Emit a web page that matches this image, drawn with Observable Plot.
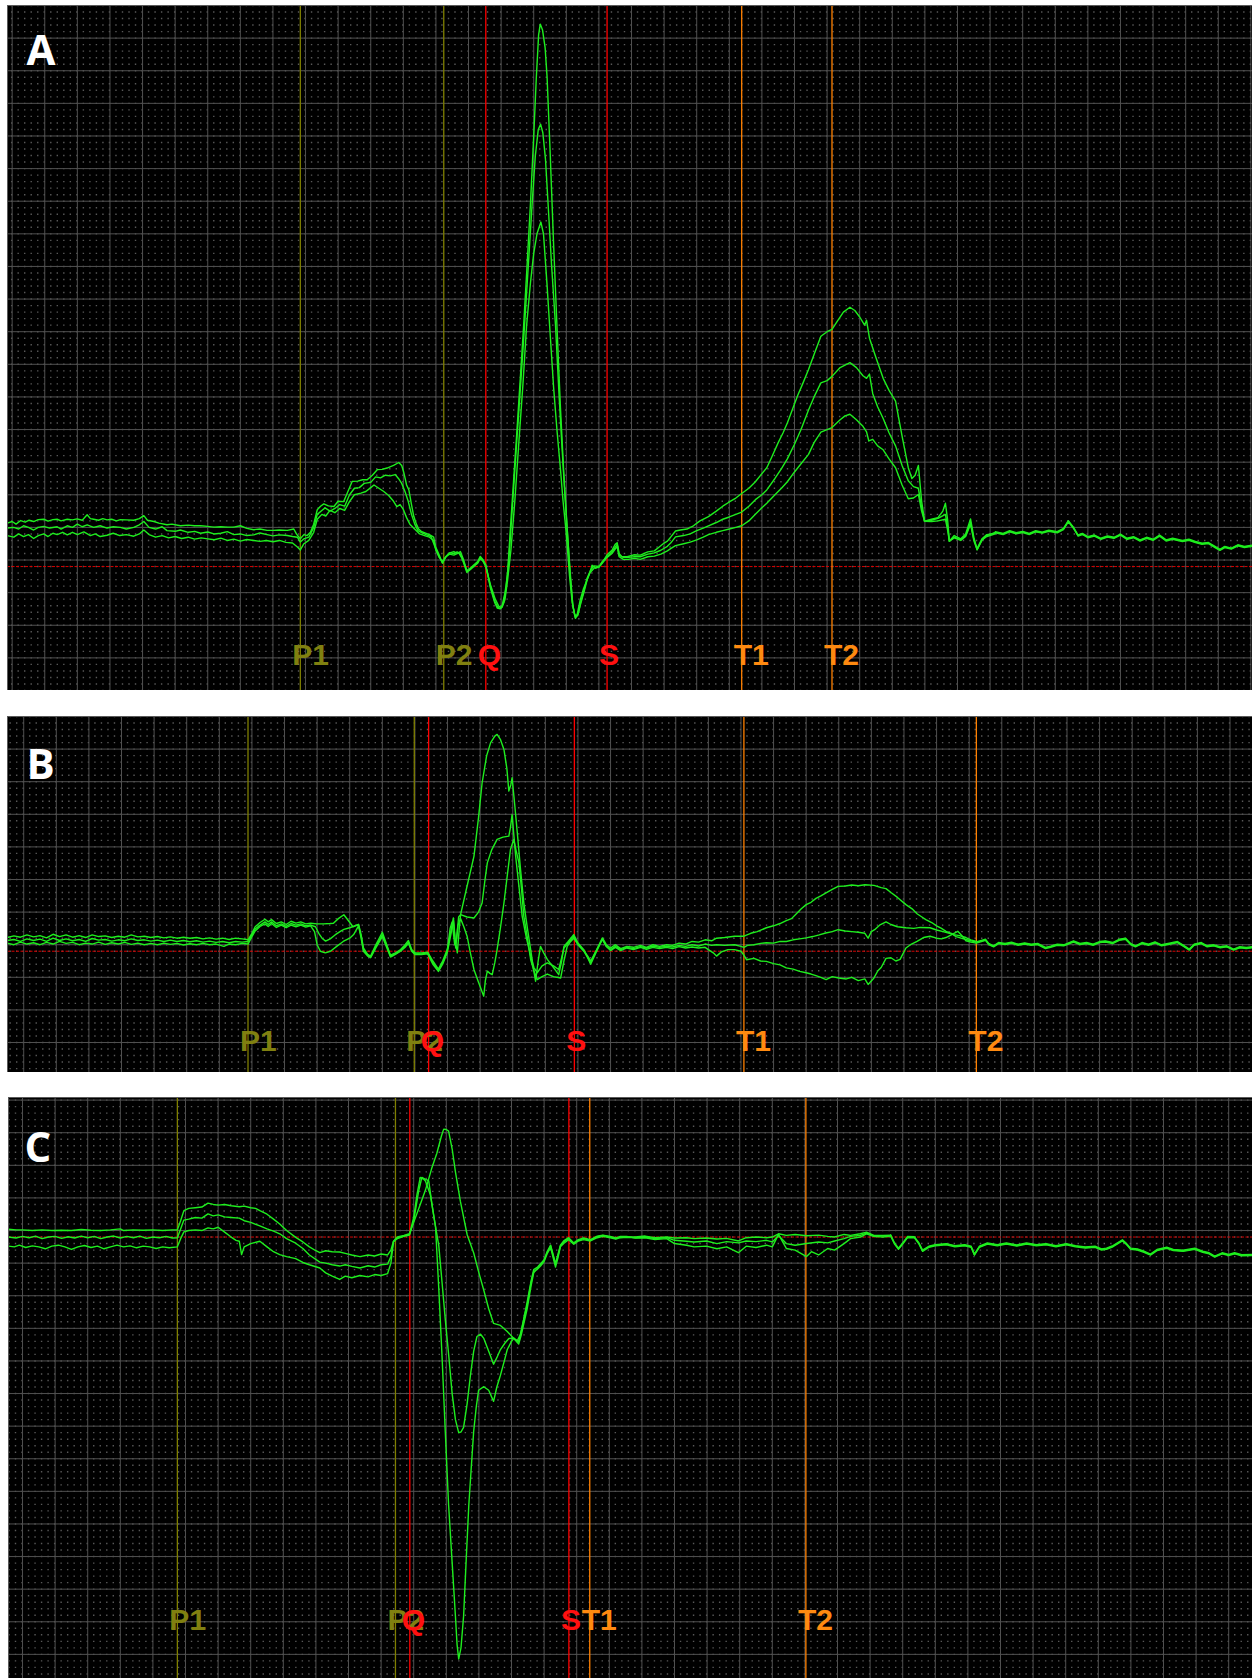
<!DOCTYPE html>
<html><head><meta charset="utf-8">
<script src="https://cdn.jsdelivr.net/npm/d3@7"></script>
<script src="https://cdn.jsdelivr.net/npm/@observablehq/plot@0.6"></script>
<style>
html,body{margin:0;padding:0;background:#fff;}
#root{position:relative;width:1252px;height:1678px;overflow:hidden;background:#fff;}
#root svg{position:absolute;display:block;}
</style></head><body><div id="root"></div>
<script>
// ---------- marker data (time in grid divisions) ----------
const markerNames = ["P1","P2","Q","S","T1","T2"];
const markerKinds = ["P","P","QS","QS","T","T"];
const aMarkerT = [8.84, 13.24, 14.53, 18.25, 22.38, 25.15];
const bMarkerT = [6.88, 11.98, 12.42, 16.89, 22.09, 29.22];
const cMarkerT = [4.75, 11.44, 11.88, 16.76, 17.40, 24.03];

// ---------- panel A traces [t, amplitude in divisions] ----------
const A1 = [[-0.15,1.33],[0.0,1.38],[0.12,1.3],[0.26,1.41],[0.4,1.36],[0.52,1.42],[0.66,1.38],[0.8,1.44],[0.97,1.45],[1.1,1.39],[1.25,1.44],[1.38,1.45],[1.5,1.4],[1.69,1.45],[1.85,1.43],[1.99,1.46],[2.15,1.42],[2.3,1.59],[2.4,1.47],[2.5,1.45],[2.65,1.42],[2.78,1.47],[2.91,1.43],[3.05,1.45],[3.2,1.4],[3.32,1.44],[3.5,1.43],[3.73,1.42],[3.9,1.47],[4.04,1.56],[4.15,1.42],[4.35,1.38],[4.5,1.33],[4.75,1.28],[4.9,1.3],[5.16,1.25],[5.4,1.27],[5.6,1.25],[5.78,1.25],[6.0,1.23],[6.19,1.21],[6.4,1.22],[6.6,1.21],[6.8,1.21],[7.0,1.25],[7.2,1.17],[7.41,1.13],[7.6,1.15],[7.82,1.11],[8.0,1.11],[8.2,1.12],[8.44,1.11],[8.64,1.15],[8.72,1.0],[8.84,0.85],[8.95,0.98],[9.05,0.95],[9.15,1.05],[9.25,1.3],[9.36,1.74],[9.46,1.85],[9.56,1.92],[9.7,1.86],[9.87,1.84],[10.0,2.0],[10.17,1.99],[10.3,2.3],[10.43,2.61],[10.6,2.62],[10.75,2.66],[10.89,2.66],[11.05,2.8],[11.2,2.97],[11.35,2.98],[11.5,3.02],[11.7,3.1],[11.86,3.19],[11.95,3.1],[12.01,2.9],[12.1,2.5],[12.17,2.35],[12.25,1.9],[12.32,1.54],[12.4,1.3],[12.47,1.15],[12.55,1.08],[12.7,1.02],[12.8,0.98],[12.93,0.9],[12.99,0.61],[13.1,0.35],[13.2,0.1],[13.3,0.3],[13.4,0.41],[13.55,0.46],[13.65,0.4],[13.75,0.46],[13.85,0.2],[13.95,-0.15],[14.05,-0.05],[14.16,0.05],[14.28,0.15],[14.36,0.31],[14.45,0.2],[14.53,0.05],[14.67,-0.65],[14.8,-1.1],[14.88,-1.27],[14.97,-1.3],[15.03,-1.2],[15.12,-0.8],[15.2,-0.2],[15.28,1.1],[15.38,2.6],[15.49,4.24],[15.59,5.8],[15.69,7.37],[15.8,9.3],[15.9,11.13],[16.0,13.2],[16.08,15.0],[16.15,16.3],[16.2,16.63],[16.27,16.45],[16.35,15.9],[16.41,15.0],[16.5,12.8],[16.61,9.87],[16.72,7.2],[16.82,4.87],[16.92,2.9],[17.03,1.1],[17.12,-0.2],[17.2,-1.2],[17.28,-1.59],[17.36,-1.45],[17.44,-1.14],[17.55,-0.75],[17.64,-0.4],[17.72,-0.2],[17.79,0.04],[17.9,-0.05],[18.05,0.04],[18.15,0.2],[18.25,0.36],[18.4,0.5],[18.5,0.68],[18.56,0.73],[18.62,0.4],[18.7,0.3],[18.87,0.3],[19.07,0.36],[19.27,0.35],[19.5,0.45],[19.7,0.48],[19.85,0.6],[20.0,0.72],[20.1,0.78],[20.2,0.9],[20.35,1.09],[20.5,1.12],[20.7,1.15],[20.9,1.25],[21.1,1.4],[21.36,1.53],[21.6,1.7],[21.8,1.85],[22.0,1.98],[22.2,2.1],[22.38,2.24],[22.6,2.4],[22.8,2.6],[23.0,2.85],[23.15,3.03],[23.3,3.35],[23.5,3.8],[23.65,4.1],[23.78,4.4],[23.95,4.85],[24.1,5.25],[24.25,5.6],[24.43,6.04],[24.6,6.5],[24.81,7.06],[25.0,7.2],[25.15,7.27],[25.3,7.5],[25.5,7.8],[25.7,7.95],[25.85,7.85],[26.0,7.65],[26.15,7.4],[26.21,7.55],[26.3,7.0],[26.5,6.4],[26.72,5.77],[26.9,5.4],[27.1,5.07],[27.3,4.0],[27.49,3.03],[27.6,2.7],[27.7,2.8],[27.8,3.1],[27.9,2.0],[27.99,1.39],[28.2,1.45],[28.4,1.5],[28.55,1.7],[28.63,1.94],[28.7,1.4],[28.75,0.78],[28.9,0.95],[29.1,0.85],[29.25,1.0],[29.4,1.46],[29.5,0.9],[29.6,0.51],[29.75,0.8],[29.9,0.95],[30.16,1.05]];
const A2 = [[-0.15,1.18],[0.05,1.2],[0.2,1.15],[0.35,1.25],[0.5,1.2],[0.66,1.12],[0.8,1.2],[0.97,1.23],[1.15,1.18],[1.38,1.22],[1.5,1.15],[1.69,1.25],[1.85,1.2],[2.0,1.3],[2.15,1.22],[2.3,1.28],[2.5,1.2],[2.7,1.25],[2.91,1.18],[3.1,1.22],[3.32,1.2],[3.5,1.15],[3.73,1.2],[3.9,1.28],[4.04,1.38],[4.2,1.2],[4.4,1.15],[4.6,1.22],[4.75,1.1],[5.0,1.08],[5.16,1.12],[5.4,1.05],[5.6,1.08],[5.78,1.02],[6.0,1.06],[6.19,1.0],[6.4,1.02],[6.6,1.07],[6.8,0.98],[7.0,1.0],[7.2,0.95],[7.41,0.97],[7.6,1.03],[7.82,0.98],[8.0,0.94],[8.2,0.97],[8.44,0.95],[8.6,0.92],[8.75,0.9],[8.84,0.75],[8.95,0.85],[9.1,0.9],[9.25,1.2],[9.36,1.6],[9.5,1.72],[9.6,1.8],[9.75,1.7],[9.9,1.78],[10.05,1.9],[10.2,1.85],[10.35,2.2],[10.5,2.4],[10.65,2.42],[10.8,2.55],[11.0,2.58],[11.15,2.75],[11.3,2.72],[11.45,2.8],[11.6,2.78],[11.75,2.82],[11.85,2.7],[11.95,2.55],[12.05,2.3],[12.15,2.0],[12.25,1.6],[12.35,1.3],[12.45,1.1],[12.55,1.05],[12.7,0.98],[12.85,0.92],[12.99,0.55],[13.1,0.3],[13.2,0.12],[13.3,0.28],[13.42,0.42],[13.55,0.4],[13.65,0.45],[13.75,0.38],[13.85,0.15],[13.95,-0.12],[14.05,-0.08],[14.16,0.02],[14.28,0.12],[14.36,0.28],[14.45,0.18],[14.53,0.02],[14.67,-0.6],[14.8,-1.05],[14.9,-1.25],[15.0,-1.28],[15.08,-1.1],[15.16,-0.6],[15.25,0.4],[15.35,1.9],[15.47,3.7],[15.58,5.3],[15.7,7.1],[15.82,9.0],[15.95,11.1],[16.05,12.6],[16.14,13.4],[16.21,13.56],[16.28,13.3],[16.36,12.5],[16.44,11.13],[16.55,9.2],[16.67,7.37],[16.77,5.4],[16.87,3.61],[16.95,2.3],[17.03,1.1],[17.12,-0.3],[17.2,-1.2],[17.27,-1.55],[17.35,-1.5],[17.44,-1.1],[17.55,-0.7],[17.64,-0.35],[17.75,-0.1],[17.85,0.02],[18.0,0.0],[18.1,0.15],[18.25,0.3],[18.4,0.45],[18.56,0.68],[18.62,0.35],[18.75,0.28],[18.9,0.28],[19.1,0.3],[19.27,0.3],[19.5,0.38],[19.7,0.42],[19.9,0.5],[20.1,0.62],[20.2,0.72],[20.35,0.91],[20.6,0.95],[20.8,1.0],[21.0,1.1],[21.2,1.18],[21.36,1.25],[21.6,1.35],[21.8,1.45],[22.0,1.52],[22.2,1.6],[22.38,1.67],[22.6,1.85],[22.8,2.05],[23.0,2.2],[23.15,2.35],[23.4,2.7],[23.6,3.0],[23.78,3.3],[24.0,3.75],[24.2,4.2],[24.43,4.8],[24.6,5.2],[24.81,5.63],[25.0,5.7],[25.15,5.83],[25.4,6.1],[25.7,6.25],[25.9,6.1],[26.1,5.85],[26.21,5.77],[26.3,5.9],[26.4,5.3],[26.55,4.9],[26.72,4.54],[26.9,4.1],[27.1,3.7],[27.3,3.1],[27.49,2.63],[27.65,2.45],[27.8,2.4],[27.9,1.8],[27.99,1.39],[28.2,1.42],[28.4,1.48],[28.63,1.6],[28.7,1.2],[28.75,0.78],[28.9,0.9],[29.1,0.82],[29.25,0.95],[29.4,1.35],[29.5,0.85],[29.6,0.55],[29.75,0.85],[29.9,0.98],[30.16,1.02]];
const A3 = [[-0.15,0.95],[0.05,0.9],[0.2,1.0],[0.35,0.92],[0.5,0.98],[0.66,0.86],[0.8,0.95],[0.97,1.0],[1.1,0.92],[1.25,1.02],[1.38,0.98],[1.55,1.05],[1.69,0.97],[1.85,1.05],[2.0,0.98],[2.2,1.06],[2.4,0.95],[2.55,1.0],[2.7,0.92],[2.91,0.96],[3.1,1.02],[3.3,0.95],[3.5,0.98],[3.73,0.93],[3.9,1.0],[4.04,1.12],[4.2,0.98],[4.4,0.9],[4.6,0.95],[4.8,0.88],[5.0,0.92],[5.2,0.86],[5.4,0.9],[5.6,0.84],[5.8,0.88],[6.0,0.85],[6.2,0.82],[6.4,0.87],[6.6,0.8],[6.8,0.84],[7.0,0.78],[7.2,0.83],[7.41,0.8],[7.6,0.77],[7.8,0.8],[8.0,0.76],[8.2,0.8],[8.4,0.74],[8.6,0.72],[8.75,0.6],[8.84,0.51],[8.95,0.7],[9.1,0.8],[9.25,1.05],[9.36,1.45],[9.5,1.6],[9.62,1.55],[9.75,1.72],[9.9,1.65],[10.05,1.78],[10.2,1.72],[10.35,2.0],[10.5,2.2],[10.7,2.25],[10.85,2.3],[11.0,2.42],[11.1,2.5],[11.25,2.4],[11.4,2.3],[11.55,2.18],[11.7,2.0],[11.8,1.84],[11.9,1.9],[12.0,1.75],[12.1,1.5],[12.2,1.3],[12.3,1.2],[12.4,1.1],[12.5,1.0],[12.65,0.95],[12.8,0.9],[12.93,0.8],[13.0,0.5],[13.1,0.28],[13.2,0.15],[13.3,0.3],[13.42,0.38],[13.55,0.35],[13.7,0.42],[13.8,0.25],[13.95,-0.18],[14.05,-0.1],[14.16,0.0],[14.28,0.1],[14.36,0.25],[14.45,0.15],[14.53,0.0],[14.67,-0.55],[14.82,-1.0],[14.93,-1.22],[15.03,-1.25],[15.12,-1.0],[15.2,-0.4],[15.3,0.5],[15.42,2.0],[15.55,3.9],[15.67,5.6],[15.78,7.37],[15.9,8.7],[16.0,9.6],[16.1,10.2],[16.22,10.56],[16.3,10.2],[16.41,8.62],[16.5,7.2],[16.61,5.49],[16.72,4.1],[16.82,2.99],[16.9,2.0],[16.99,1.1],[17.1,-0.3],[17.18,-1.1],[17.26,-1.5],[17.33,-1.48],[17.42,-1.05],[17.52,-0.7],[17.62,-0.45],[17.72,-0.2],[17.85,-0.05],[18.0,-0.02],[18.12,0.12],[18.25,0.28],[18.4,0.4],[18.56,0.62],[18.62,0.3],[18.75,0.22],[18.9,0.22],[19.1,0.25],[19.27,0.22],[19.5,0.3],[19.7,0.32],[19.9,0.38],[20.1,0.48],[20.2,0.55],[20.35,0.64],[20.6,0.7],[20.8,0.75],[21.0,0.82],[21.2,0.9],[21.36,0.98],[21.6,1.05],[21.8,1.1],[22.0,1.15],[22.2,1.2],[22.38,1.25],[22.6,1.4],[22.8,1.6],[23.0,1.8],[23.15,1.94],[23.4,2.2],[23.6,2.4],[23.78,2.6],[24.0,2.9],[24.2,3.15],[24.43,3.44],[24.6,3.8],[24.81,4.12],[25.0,4.2],[25.15,4.26],[25.4,4.5],[25.55,4.62],[25.7,4.67],[25.9,4.5],[26.1,4.3],[26.21,4.13],[26.28,3.85],[26.4,3.9],[26.55,3.7],[26.72,3.58],[26.9,3.3],[27.1,3.03],[27.3,2.5],[27.49,2.08],[27.65,2.1],[27.8,2.21],[27.9,1.7],[27.99,1.39],[28.2,1.38],[28.4,1.4],[28.63,1.45],[28.7,1.1],[28.75,0.78],[28.9,0.88],[29.1,0.8],[29.25,0.92],[29.4,1.3],[29.5,0.8],[29.6,0.52],[29.75,0.82],[29.9,0.92],[30.16,1.0]];
const aTail = [[30.16,1.05],[30.4,1.0],[30.6,1.08],[30.8,1.02],[31.0,1.06],[31.2,1.0],[31.4,1.08],[31.6,1.04],[31.8,1.1],[32.06,1.05],[32.25,1.15],[32.4,1.39],[32.55,1.2],[32.7,0.95],[32.83,1.0],[33.0,0.9],[33.2,0.95],[33.4,0.85],[33.6,0.92],[33.8,0.88],[34.0,0.98],[34.2,0.85],[34.4,0.9],[34.6,0.8],[34.8,0.88],[35.0,0.82],[35.2,0.95],[35.4,0.8],[35.6,0.85],[35.9,0.78],[36.1,0.82],[36.3,0.75],[36.5,0.7],[36.7,0.72],[36.9,0.6],[37.05,0.51],[37.2,0.6],[37.4,0.55],[37.6,0.65],[37.8,0.6],[38.05,0.64]];

// ---------- panel B traces ----------
const B1 = [[-0.5,0.42],[-0.3,0.47],[-0.1,0.43],[0.1,0.5],[0.3,0.44],[0.5,0.48],[0.7,0.41],[0.9,0.52],[1.1,0.45],[1.3,0.5],[1.5,0.43],[1.7,0.48],[1.9,0.42],[2.1,0.5],[2.3,0.45],[2.5,0.47],[2.7,0.42],[2.9,0.46],[3.1,0.43],[3.3,0.5],[3.5,0.44],[3.7,0.46],[3.9,0.42],[4.1,0.45],[4.3,0.41],[4.5,0.44],[4.7,0.4],[4.9,0.43],[5.1,0.4],[5.3,0.42],[5.5,0.38],[5.7,0.41],[5.9,0.37],[6.1,0.4],[6.3,0.36],[6.5,0.4],[6.7,0.38],[6.88,0.35],[7.0,0.55],[7.1,0.75],[7.25,0.88],[7.4,0.98],[7.5,0.9],[7.6,0.97],[7.75,0.85],[7.9,0.9],[8.05,0.82],[8.2,0.92],[8.35,0.86],[8.5,0.9],[8.65,0.84],[8.8,0.86],[9.0,0.84],[9.2,0.84],[9.4,0.85],[9.5,0.86],[9.65,1.0],[9.82,1.12],[9.95,0.95],[10.1,0.75],[10.27,0.82],[10.35,0.5],[10.42,0.1],[10.55,-0.1],[10.64,-0.15],[10.8,0.2],[11.0,0.58],[11.1,0.3],[11.25,-0.12],[11.4,-0.05],[11.56,0.05],[11.7,0.2],[11.8,0.33],[11.9,0.05],[12.0,-0.05],[12.2,-0.05],[12.39,-0.03],[12.55,-0.3],[12.72,-0.55],[12.85,-0.3],[12.99,0.05],[13.1,0.6],[13.18,1.02],[13.24,0.3],[13.3,-0.05],[13.36,0.7],[13.4,1.12],[13.6,2.0],[13.81,2.91],[13.95,4.1],[14.06,5.16],[14.2,6.0],[14.32,6.39],[14.45,6.6],[14.52,6.65],[14.62,6.5],[14.73,6.19],[14.82,5.6],[14.88,4.91],[14.94,5.1],[14.98,5.32],[15.06,4.5],[15.14,3.63],[15.24,2.5],[15.34,1.48],[15.45,0.7],[15.55,0.05],[15.63,-0.5],[15.7,-0.92],[15.78,-0.3],[15.85,0.15],[15.95,-0.05],[16.06,-0.25],[16.25,-0.5],[16.41,-0.72],[16.5,-0.3],[16.57,0.15],[16.7,0.3],[16.87,0.51],[17.0,0.25],[17.18,0.05],[17.3,-0.2],[17.39,-0.36],[17.55,0.0],[17.75,0.41],[17.87,0.2],[18.0,0.1],[18.15,0.2],[18.31,0.08],[18.5,0.15],[18.7,0.12],[18.92,0.18],[19.1,0.12],[19.3,0.2],[19.5,0.15],[19.72,0.2],[19.9,0.18],[20.1,0.25],[20.3,0.22],[20.5,0.3],[20.7,0.28],[20.9,0.35],[21.1,0.32],[21.25,0.4],[21.5,0.42],[21.8,0.46],[22.09,0.46],[22.3,0.55],[22.5,0.6],[22.78,0.72],[23.0,0.78],[23.2,0.85],[23.39,0.94],[23.55,1.0],[23.7,1.15],[23.85,1.3],[24.0,1.43],[24.15,1.5],[24.3,1.62],[24.45,1.7],[24.61,1.79],[24.8,1.9],[24.98,1.99],[25.2,2.0],[25.4,2.03],[25.6,2.01],[25.8,2.04],[26.08,2.02],[26.3,1.95],[26.45,1.92],[26.6,1.8],[26.8,1.65],[27.06,1.43],[27.25,1.3],[27.4,1.15],[27.55,1.05],[27.67,0.97],[27.85,0.88],[28.0,0.78],[28.15,0.7],[28.29,0.61],[28.45,0.55],[28.6,0.45],[28.75,0.4],[28.9,0.36],[29.05,0.32],[29.22,0.28]];
const B2 = [[-0.5,0.33],[-0.3,0.36],[-0.1,0.3],[0.1,0.38],[0.3,0.33],[0.5,0.37],[0.7,0.3],[0.9,0.4],[1.1,0.33],[1.3,0.38],[1.5,0.32],[1.7,0.36],[1.9,0.3],[2.1,0.39],[2.3,0.34],[2.5,0.36],[2.7,0.31],[2.9,0.35],[3.1,0.32],[3.3,0.38],[3.5,0.33],[3.7,0.35],[3.9,0.31],[4.1,0.34],[4.3,0.3],[4.5,0.34],[4.7,0.3],[4.9,0.33],[5.1,0.29],[5.3,0.32],[5.5,0.28],[5.7,0.31],[5.9,0.27],[6.1,0.3],[6.3,0.26],[6.5,0.3],[6.7,0.28],[6.88,0.3],[7.0,0.5],[7.1,0.68],[7.25,0.8],[7.4,0.9],[7.5,0.82],[7.6,0.9],[7.75,0.78],[7.9,0.84],[8.05,0.76],[8.2,0.85],[8.35,0.8],[8.5,0.84],[8.65,0.78],[8.8,0.8],[8.95,0.75],[9.05,0.55],[9.15,0.4],[9.26,0.31],[9.4,0.38],[9.55,0.5],[9.7,0.6],[9.82,0.67],[10.0,0.72],[10.15,0.78],[10.27,0.82],[10.35,0.45],[10.42,0.05],[10.55,-0.12],[10.64,-0.18],[10.8,0.15],[11.0,0.5],[11.1,0.25],[11.25,-0.15],[11.4,-0.08],[11.56,0.02],[11.7,0.15],[11.8,0.28],[11.9,0.02],[12.0,-0.08],[12.2,-0.08],[12.39,-0.05],[12.55,-0.35],[12.72,-0.6],[12.85,-0.35],[12.99,0.0],[13.08,0.7],[13.14,0.9],[13.22,0.2],[13.28,0.4],[13.34,1.05],[13.4,1.12],[13.6,1.05],[13.81,1.02],[13.95,1.2],[14.06,1.48],[14.15,2.2],[14.22,2.71],[14.35,3.1],[14.52,3.43],[14.7,3.5],[14.88,3.53],[14.93,3.8],[14.98,4.19],[15.03,3.6],[15.09,2.91],[15.2,1.9],[15.29,1.07],[15.42,0.4],[15.55,-0.15],[15.65,-0.5],[15.75,-0.66],[15.9,-0.45],[16.06,-0.36],[16.25,-0.45],[16.41,-0.56],[16.5,-0.2],[16.57,0.1],[16.7,0.25],[16.87,0.45],[17.0,0.22],[17.18,0.02],[17.3,-0.15],[17.39,-0.3],[17.55,0.0],[17.75,0.36],[17.87,0.15],[18.0,0.05],[18.15,0.15],[18.31,0.05],[18.5,0.12],[18.7,0.08],[18.92,0.14],[19.1,0.1],[19.3,0.16],[19.5,0.12],[19.72,0.15],[19.9,0.13],[20.1,0.18],[20.3,0.15],[20.5,0.2],[20.7,0.16],[20.9,0.22],[21.1,0.18],[21.25,0.2],[21.5,0.18],[21.8,0.2],[22.0,0.15],[22.09,0.12],[22.2,0.18],[22.4,0.2],[22.6,0.24],[22.78,0.26],[23.0,0.25],[23.2,0.3],[23.39,0.3],[23.6,0.35],[23.8,0.38],[24.0,0.41],[24.2,0.45],[24.4,0.5],[24.6,0.56],[24.8,0.6],[24.98,0.66],[25.2,0.62],[25.4,0.6],[25.6,0.58],[25.8,0.55],[25.9,0.4],[26.0,0.6],[26.1,0.66],[26.25,0.8],[26.45,0.9],[26.6,0.82],[26.8,0.75],[27.06,0.72],[27.3,0.7],[27.5,0.73],[27.8,0.72],[28.0,0.65],[28.2,0.6],[28.53,0.51],[28.7,0.48],[28.9,0.42],[29.05,0.35],[29.22,0.3]];
const B3 = [[-0.5,0.25],[-0.3,0.2],[-0.1,0.28],[0.1,0.22],[0.3,0.26],[0.5,0.2],[0.7,0.27],[0.9,0.22],[1.1,0.3],[1.3,0.24],[1.5,0.27],[1.7,0.2],[1.9,0.25],[2.1,0.22],[2.3,0.28],[2.5,0.21],[2.7,0.26],[2.9,0.22],[3.1,0.27],[3.3,0.21],[3.5,0.25],[3.7,0.2],[3.9,0.24],[4.1,0.2],[4.3,0.25],[4.5,0.21],[4.7,0.24],[4.9,0.19],[5.1,0.23],[5.3,0.2],[5.5,0.24],[5.7,0.2],[5.9,0.22],[6.14,0.15],[6.3,0.22],[6.5,0.2],[6.7,0.24],[6.88,0.22],[7.0,0.45],[7.1,0.62],[7.25,0.76],[7.4,0.84],[7.5,0.76],[7.6,0.85],[7.75,0.73],[7.9,0.8],[8.05,0.72],[8.2,0.8],[8.35,0.75],[8.5,0.8],[8.65,0.74],[8.8,0.78],[8.92,0.6],[9.0,0.2],[9.1,0.0],[9.25,-0.05],[9.41,0.0],[9.6,0.15],[9.8,0.3],[10.0,0.4],[10.12,0.51],[10.27,0.78],[10.35,0.4],[10.42,0.0],[10.55,-0.15],[10.64,-0.2],[10.8,0.1],[11.0,0.45],[11.1,0.2],[11.25,-0.18],[11.4,-0.1],[11.56,0.0],[11.7,0.12],[11.8,0.25],[11.9,0.0],[12.0,-0.1],[12.2,-0.1],[12.39,-0.08],[12.55,-0.4],[12.72,-0.62],[12.85,-0.4],[12.99,-0.05],[13.1,0.5],[13.18,0.95],[13.25,0.1],[13.32,0.8],[13.4,1.0],[13.5,0.75],[13.6,0.46],[13.7,-0.05],[13.81,-0.56],[13.95,-0.95],[14.11,-1.38],[14.16,-0.9],[14.22,-0.61],[14.3,-0.68],[14.37,-0.72],[14.45,-0.35],[14.52,0.05],[14.62,0.7],[14.73,1.48],[14.83,2.3],[14.93,3.12],[15.03,3.43],[15.1,3.1],[15.19,2.71],[15.27,1.9],[15.34,1.07],[15.45,0.4],[15.55,-0.26],[15.65,-0.6],[15.75,-0.87],[15.9,-0.78],[16.06,-0.7],[16.25,-0.78],[16.47,-0.82],[16.57,-0.3],[16.67,0.15],[16.78,0.3],[16.87,0.4],[17.0,0.2],[17.18,0.0],[17.3,-0.2],[17.39,-0.4],[17.55,-0.05],[17.75,0.38],[17.87,0.15],[18.0,0.02],[18.15,0.12],[18.31,0.02],[18.5,0.1],[18.7,0.05],[18.92,0.12],[19.1,0.06],[19.3,0.12],[19.5,0.08],[19.72,0.12],[19.9,0.08],[20.1,0.14],[20.3,0.1],[20.5,0.13],[20.7,0.1],[20.9,0.12],[21.0,0.05],[21.15,-0.05],[21.25,-0.15],[21.4,-0.02],[21.6,0.05],[21.8,0.05],[22.0,0.0],[22.09,-0.12],[22.17,-0.26],[22.4,-0.22],[22.6,-0.3],[22.78,-0.31],[23.0,-0.38],[23.2,-0.42],[23.39,-0.51],[23.6,-0.55],[23.8,-0.62],[24.0,-0.66],[24.15,-0.7],[24.3,-0.75],[24.45,-0.8],[24.61,-0.87],[24.8,-0.78],[25.0,-0.82],[25.23,-0.85],[25.4,-0.8],[25.6,-0.9],[25.8,-0.85],[25.9,-1.02],[26.08,-0.82],[26.2,-0.6],[26.3,-0.5],[26.45,-0.22],[26.6,-0.2],[26.75,-0.3],[26.88,-0.25],[27.06,0.1],[27.2,0.2],[27.4,0.3],[27.6,0.42],[27.8,0.46],[28.0,0.4],[28.15,0.38],[28.29,0.42],[28.45,0.5],[28.65,0.61],[28.8,0.45],[28.9,0.32],[29.05,0.28],[29.22,0.25]];
const bTail = [[29.22,0.27],[29.4,0.32],[29.5,0.35],[29.6,0.22],[29.75,0.15],[29.9,0.25],[30.1,0.22],[30.3,0.26],[30.5,0.2],[30.7,0.24],[30.9,0.2],[31.1,0.22],[31.34,0.1],[31.5,0.14],[31.7,0.2],[31.9,0.18],[32.2,0.3],[32.4,0.22],[32.6,0.25],[32.8,0.2],[33.0,0.28],[33.18,0.3],[33.4,0.25],[33.6,0.35],[33.8,0.38],[33.95,0.22],[34.1,0.15],[34.3,0.25],[34.5,0.2],[34.7,0.27],[34.9,0.18],[35.1,0.22],[35.39,0.28],[35.6,0.15],[35.75,0.05],[35.9,0.2],[36.12,0.25],[36.3,0.15],[36.5,0.18],[36.7,0.12],[36.9,0.15],[37.11,0.05],[37.3,0.12],[37.5,0.1],[37.69,0.12]];

// ---------- panel C traces ----------
const C1 = [[-0.43,0.24],[-0.2,0.22],[0.0,0.22],[0.3,0.2],[0.6,0.22],[0.9,0.2],[1.2,0.21],[1.5,0.2],[1.8,0.23],[2.1,0.21],[2.4,0.2],[2.7,0.22],[3.0,0.25],[3.1,0.2],[3.4,0.22],[3.7,0.21],[4.0,0.22],[4.3,0.2],[4.6,0.22],[4.75,0.22],[4.85,0.5],[4.95,0.81],[5.1,0.88],[5.3,0.9],[5.5,0.92],[5.69,1.04],[5.85,1.0],[6.0,0.98],[6.2,1.0],[6.4,0.96],[6.65,0.93],[6.8,0.95],[7.0,0.9],[7.15,0.88],[7.28,0.81],[7.5,0.7],[7.7,0.55],[7.89,0.4],[8.1,0.2],[8.38,-0.01],[8.6,-0.15],[8.8,-0.3],[9.0,-0.42],[9.12,-0.48],[9.3,-0.42],[9.5,-0.45],[9.73,-0.46],[9.9,-0.5],[10.1,-0.55],[10.35,-0.6],[10.6,-0.55],[10.8,-0.58],[11.0,-0.52],[11.2,-0.55],[11.3,-0.4],[11.38,-0.13],[11.5,0.0],[11.7,0.05],[11.87,0.1],[12.0,0.45],[12.2,1.0],[12.36,1.44],[12.55,2.1],[12.71,2.57],[12.85,3.1],[12.92,3.31],[13.0,3.3],[13.07,3.25],[13.18,2.7],[13.28,2.0],[13.43,1.1],[13.64,0.07],[13.84,-0.49],[14.0,-1.1],[14.15,-1.63],[14.3,-2.2],[14.45,-2.65],[14.66,-2.71],[14.87,-2.9],[15.07,-3.11],[15.22,-3.28],[15.3,-3.0],[15.48,-2.2],[15.6,-1.5],[15.68,-1.1],[15.8,-0.95],[15.89,-0.85],[16.0,-0.7],[16.09,-0.49],[16.2,-0.27],[16.35,-0.85],[16.42,-0.6],[16.5,-0.27],[16.6,-0.15],[16.75,-0.04],[16.91,-0.2],[17.05,-0.1],[17.21,-0.05],[17.42,-0.1],[17.63,0.01],[17.8,0.05],[18.03,0.0],[18.2,-0.05],[18.34,0.0],[18.53,0.0],[18.8,0.0],[19.1,0.03],[19.4,-0.02],[19.76,0.0],[20.0,-0.03],[20.37,-0.02],[20.6,-0.05],[20.98,-0.03],[21.3,-0.06],[21.6,-0.04],[21.96,-0.12],[22.2,-0.02],[22.5,0.0],[22.82,-0.02],[23.0,0.0],[23.19,0.1],[23.43,0.05],[23.7,0.08],[24.05,0.04],[24.42,0.06],[24.7,0.02],[24.91,0.0],[25.2,0.08],[25.4,0.05],[25.7,0.1],[25.89,0.15],[26.1,0.06],[26.4,0.05],[26.63,0.06]];
const C2 = [[-0.43,0.0],[-0.2,-0.03],[0.0,0.02],[0.2,-0.02],[0.4,0.03],[0.6,-0.05],[0.8,0.0],[1.0,0.02],[1.2,-0.04],[1.4,0.01],[1.6,-0.03],[1.8,0.03],[2.0,-0.02],[2.2,0.02],[2.4,-0.05],[2.6,0.0],[2.8,0.03],[3.0,-0.03],[3.2,0.02],[3.4,-0.02],[3.6,0.03],[3.8,-0.04],[4.0,0.0],[4.2,-0.02],[4.4,0.02],[4.6,-0.03],[4.75,-0.02],[4.85,0.25],[4.95,0.52],[5.1,0.55],[5.3,0.6],[5.5,0.58],[5.69,0.71],[5.85,0.65],[6.0,0.68],[6.2,0.62],[6.4,0.6],[6.65,0.58],[6.8,0.5],[7.0,0.45],[7.28,0.34],[7.5,0.25],[7.7,0.18],[7.89,0.1],[8.1,-0.05],[8.38,-0.19],[8.6,-0.35],[8.8,-0.55],[9.12,-0.77],[9.3,-0.8],[9.5,-0.85],[9.73,-0.89],[9.9,-0.85],[10.1,-0.9],[10.35,-0.95],[10.6,-0.88],[10.8,-0.92],[11.0,-0.85],[11.2,-0.83],[11.3,-0.6],[11.38,-0.15],[11.5,-0.02],[11.7,0.03],[11.87,0.08],[12.0,0.6],[12.1,1.3],[12.2,1.83],[12.3,1.78],[12.36,1.72],[12.51,1.3],[12.64,0.5],[12.77,-0.27],[12.87,-1.4],[12.97,-2.54],[13.08,-3.7],[13.18,-4.81],[13.28,-5.6],[13.38,-6.0],[13.45,-5.98],[13.53,-5.84],[13.64,-5.1],[13.74,-4.24],[13.84,-3.5],[13.94,-3.05],[14.05,-2.98],[14.15,-3.11],[14.3,-3.5],[14.45,-3.9],[14.55,-3.7],[14.66,-3.45],[14.8,-3.25],[14.92,-3.11],[15.07,-3.1],[15.17,-3.2],[15.27,-2.99],[15.4,-2.4],[15.48,-2.08],[15.6,-1.4],[15.68,-1.06],[15.8,-0.98],[15.89,-0.89],[16.0,-0.75],[16.09,-0.52],[16.2,-0.32],[16.35,-0.92],[16.42,-0.65],[16.5,-0.3],[16.6,-0.2],[16.75,-0.08],[16.91,-0.22],[17.05,-0.12],[17.21,-0.08],[17.42,-0.12],[17.63,-0.02],[17.8,0.02],[18.03,-0.02],[18.2,-0.06],[18.34,-0.02],[18.53,-0.01],[18.8,-0.02],[19.1,0.0],[19.4,-0.05],[19.76,-0.02],[20.0,-0.1],[20.37,-0.13],[20.6,-0.15],[20.98,-0.12],[21.3,-0.2],[21.6,-0.14],[21.96,-0.18],[22.2,-0.12],[22.5,-0.14],[22.82,-0.1],[23.0,-0.15],[23.19,0.05],[23.43,-0.2],[23.7,-0.25],[24.05,-0.2],[24.42,-0.15],[24.7,-0.18],[24.91,-0.12],[25.2,-0.05],[25.4,0.02],[25.7,0.05],[25.89,0.12],[26.1,0.05],[26.4,0.04],[26.63,0.04]];
const C3 = [[-0.43,-0.28],[-0.25,-0.3],[-0.1,-0.25],[0.1,-0.32],[0.3,-0.27],[0.5,-0.3],[0.7,-0.36],[0.9,-0.28],[1.1,-0.25],[1.3,-0.3],[1.5,-0.38],[1.7,-0.3],[1.9,-0.26],[2.1,-0.32],[2.3,-0.28],[2.5,-0.36],[2.7,-0.3],[2.9,-0.25],[3.1,-0.3],[3.3,-0.27],[3.5,-0.33],[3.7,-0.28],[3.9,-0.3],[4.1,-0.35],[4.3,-0.3],[4.5,-0.33],[4.75,-0.3],[4.85,-0.05],[4.95,0.16],[5.1,0.2],[5.3,0.22],[5.5,0.2],[5.69,0.28],[5.85,0.25],[6.0,0.3],[6.2,0.15],[6.4,0.0],[6.55,-0.1],[6.65,-0.13],[6.72,-0.54],[6.8,-0.3],[7.0,-0.2],[7.28,-0.13],[7.5,-0.3],[7.7,-0.45],[7.89,-0.54],[8.1,-0.6],[8.38,-0.66],[8.6,-0.78],[8.8,-0.85],[9.12,-0.95],[9.3,-1.1],[9.5,-1.2],[9.73,-1.3],[9.9,-1.2],[10.1,-1.25],[10.35,-1.18],[10.6,-1.22],[10.8,-1.15],[11.0,-1.18],[11.2,-1.12],[11.3,-0.8],[11.38,-0.13],[11.5,-0.05],[11.7,0.02],[11.87,0.06],[12.0,0.5],[12.15,1.4],[12.25,1.83],[12.35,1.78],[12.46,1.72],[12.56,1.0],[12.67,0.3],[12.77,-1.6],[12.87,-3.68],[12.97,-6.0],[13.07,-8.22],[13.18,-10.0],[13.28,-11.63],[13.33,-12.5],[13.38,-12.94],[13.45,-12.6],[13.53,-11.63],[13.61,-9.9],[13.69,-8.22],[13.77,-7.0],[13.84,-5.95],[13.92,-5.2],[13.99,-4.7],[14.15,-4.59],[14.3,-4.7],[14.45,-5.04],[14.55,-4.6],[14.66,-4.24],[14.78,-3.8],[14.87,-3.45],[15.0,-3.2],[15.07,-3.11],[15.22,-3.2],[15.3,-2.9],[15.48,-2.0],[15.6,-1.35],[15.68,-1.0],[15.8,-0.92],[15.89,-0.82],[16.0,-0.7],[16.09,-0.45],[16.2,-0.25],[16.35,-0.82],[16.42,-0.55],[16.5,-0.25],[16.6,-0.12],[16.75,-0.02],[16.91,-0.18],[17.05,-0.08],[17.21,-0.03],[17.42,-0.08],[17.63,0.03],[17.8,0.06],[18.03,0.02],[18.2,-0.03],[18.34,0.02],[18.53,0.02],[18.8,-0.03],[19.1,-0.02],[19.4,-0.08],[19.76,-0.05],[20.0,-0.2],[20.37,-0.25],[20.6,-0.3],[20.98,-0.28],[21.3,-0.36],[21.6,-0.3],[21.96,-0.48],[22.2,-0.28],[22.5,-0.32],[22.82,-0.25],[23.0,-0.3],[23.19,0.08],[23.43,-0.35],[23.7,-0.4],[24.05,-0.6],[24.2,-0.45],[24.42,-0.55],[24.7,-0.35],[24.91,-0.4],[25.2,-0.2],[25.4,-0.05],[25.7,0.0],[25.89,0.1],[26.1,0.02],[26.4,0.0],[26.63,0.03]];
const cTail = [[26.63,0.05],[26.75,-0.2],[26.87,-0.36],[27.0,-0.2],[27.15,0.0],[27.36,-0.01],[27.5,-0.2],[27.61,-0.42],[27.8,-0.3],[28.0,-0.25],[28.34,-0.22],[28.6,-0.28],[28.9,-0.25],[29.1,-0.3],[29.2,-0.54],[29.35,-0.3],[29.6,-0.2],[29.9,-0.25],[30.18,-0.2],[30.5,-0.26],[30.8,-0.2],[31.1,-0.25],[31.4,-0.22],[31.7,-0.28],[32.02,-0.22],[32.3,-0.28],[32.6,-0.32],[32.9,-0.3],[33.1,-0.38],[33.25,-0.36],[33.45,-0.28],[33.74,-0.1],[33.85,-0.2],[33.99,-0.36],[34.2,-0.38],[34.4,-0.45],[34.6,-0.54],[34.8,-0.4],[35.1,-0.33],[35.3,-0.4],[35.6,-0.42],[35.96,-0.36],[36.2,-0.45],[36.4,-0.5],[36.57,-0.6],[36.8,-0.5],[37.0,-0.55],[37.18,-0.5],[37.4,-0.56],[37.77,-0.55]];

// ---------- styling ----------
const kindLine = {P: "#7f7f00", QS: "#ff0000", T: "#ff8000"};
const kindText = {P: "#808010", QS: "#ff1010", T: "#ff8a10"};
const GREEN = "#1eee1e";
const LABEL_FONT = "'Liberation Sans', Arial, sans-serif";
const LABEL_SQUEEZE = 0.81;

const panels = [
  {letter: "A", left: 7, top: 5, width: 1245, height: 685, xDomain: [-0.143, 38.05], yDomain: [-3.8, 17.2],
   markerT: aMarkerT, labelY: -2.71, traces: [A1, A2, A3], tail: aTail, letterPos: [19, 46]},
  {letter: "B", left: 7, top: 716, width: 1245, height: 356, xDomain: [-0.497, 37.69], yDomain: [-3.72, 7.2],
   markerT: bMarkerT, labelY: -2.76, traces: [B1, B2, B3], tail: bTail, letterPos: [19, 49]},
  {letter: "C", left: 8, top: 1097, width: 1244, height: 581, xDomain: [-0.43, 37.73], yDomain: [-13.54, 4.28],
   markerT: cMarkerT, labelY: -11.76, traces: [C1, C2, C3], tail: cTail, letterPos: [16, 51]}
];

function drawPanel(p) {
  const [x0, x1] = p.xDomain, [y0, y1] = p.yDomain;
  const pxPerUnit = p.width / (x1 - x0);
  const minorPx = pxPerUnit / 5;
  const majorX = d3.range(Math.ceil(x0), Math.floor(x1) + 1);
  const majorY = d3.range(Math.ceil(y0 - 0.2), Math.floor(y1 - 0.2) + 1).map(k => +(k + 0.2).toFixed(2));
  const minorY = d3.range(Math.ceil(y0 * 5), Math.floor(y1 * 5) + 1).map(m => m / 5);
  const xStart = Math.floor(x0);
  const dot = 1.4;
  const markers = p.markerT.map((t, i) => ({t, name: markerNames[i], line: kindLine[markerKinds[i]], text: kindText[markerKinds[i]]}));
  const offsets = [-0.6, 0, 0.6];
  const chart = Plot.plot({
    width: p.width, height: p.height,
    margin: 0, marginTop: 0, marginRight: 0, marginBottom: 0, marginLeft: 0,
    x: {domain: p.xDomain, axis: null},
    y: {domain: p.yDomain, axis: null},
    color: {type: "identity"},
    style: {background: "#000", overflow: "hidden"},
    marks: [
      Plot.frame({fill: "#000"}),
      Plot.ruleY(minorY, {y: d => d, x1: () => xStart, x2: () => x1 + 1, stroke: "#585858", strokeWidth: 1.4,
        strokeDasharray: `${dot} ${minorPx - dot}`, strokeDashoffset: dot / 2, clip: true}),
      Plot.ruleX(majorX, {x: d => d, stroke: "#505050", strokeWidth: 1}),
      Plot.ruleY(majorY, {y: d => d, stroke: "#505050", strokeWidth: 1}),
      Plot.ruleY([0], {y: d => d, stroke: "#d40000", strokeWidth: 1, strokeDasharray: "3 1.5"}),
      Plot.ruleX(markers, {x: "t", stroke: "line", strokeWidth: 1.3}),
      ...offsets.map(o => Plot.line(p.tail, {x: d => d[0], y: d => d[1], stroke: GREEN, strokeWidth: 1.3, dy: o, clip: true})),
      ...p.traces.map(tr => Plot.line(tr, {x: d => d[0], y: d => d[1], stroke: GREEN, strokeWidth: 1.4, clip: true})),
      Plot.text(markers, {x: "t", y: () => p.labelY, text: "name", fill: "text", dx: -8, textAnchor: "start",
        fontSize: 30, fontWeight: "bold", fontFamily: LABEL_FONT, ariaLabel: "marker-labels"}),
      Plot.text([p.letter], {frameAnchor: "top-left", dx: p.letterPos[0], dy: p.letterPos[1], text: d => d,
        textAnchor: "start", lineAnchor: "middle", fill: "#fff", fontSize: 42, fontWeight: 700, fontFamily: "'Open Sans', sans-serif"}),
      Plot.frame({stroke: "#5a5a5a"})
    ]
  });
  // condense the marker label glyphs horizontally (narrow face look)
  d3.select(chart).selectAll('g[aria-label="marker-labels"] text').each(function() {
    const el = d3.select(this);
    const tr = el.attr("transform") || "";
    el.attr("transform", tr + ` scale(${LABEL_SQUEEZE},1)`);
  });
  chart.style.left = p.left + "px";
  chart.style.top = p.top + "px";
  document.getElementById("root").appendChild(chart);
}
panels.forEach(drawPanel);
</script></body></html>
